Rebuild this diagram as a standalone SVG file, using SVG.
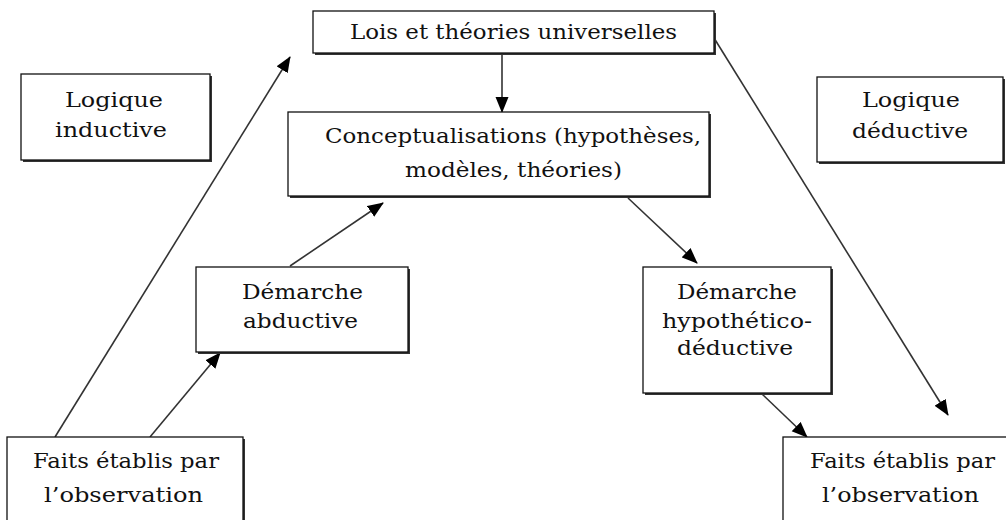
<svg xmlns="http://www.w3.org/2000/svg" width="1006" height="520" viewBox="0 0 1006 520">
<style>
.shadow{fill:#333;}
.box{fill:#fff;stroke:#111;stroke-width:1.3;}
.t{font-family:'DejaVu Serif','Liberation Serif',serif;font-size:21px;fill:#111;text-anchor:middle;}
.c{stroke:#333;stroke-width:1.6;fill:none;marker-end:url(#ah);}
</style>
<defs>
<marker id="ah" markerUnits="userSpaceOnUse" markerWidth="16" markerHeight="14" refX="15" refY="6.5" orient="auto" viewBox="0 0 16 13">
<path d="M0,0 L16,6.5 L0,13 z" fill="#000"/>
</marker>
</defs>
<rect width="1006" height="520" fill="#fff"/>
<g id="connectors">
<line class="c" x1="502" y1="53" x2="502" y2="112"/>
<line class="c" x1="55" y1="437" x2="290" y2="57"/>
<line class="c" x1="150" y1="437" x2="220" y2="353"/>
<line class="c" x1="290" y1="266" x2="383" y2="203"/>
<line class="c" x1="628" y1="198" x2="697" y2="263"/>
<line class="c" x1="714" y1="38" x2="948" y2="415"/>
<line class="c" x1="762" y1="394" x2="807" y2="437"/>
</g>
<g id="lois">
<rect class="shadow" x="315" y="13" width="401" height="42"/>
<rect class="box" x="313" y="11" width="401" height="42"/>
<text class="t" x="513.5" y="39" textLength="327" lengthAdjust="spacingAndGlyphs">Lois et théories universelles</text>
</g>
<g id="concept">
<rect class="shadow" x="290" y="114" width="421" height="84"/>
<rect class="box" x="288" y="112" width="421" height="84"/>
<text class="t" x="513" y="143" textLength="376" lengthAdjust="spacingAndGlyphs">Conceptualisations (hypothèses,</text>
<text class="t" x="513.5" y="177" textLength="217" lengthAdjust="spacingAndGlyphs">modèles, théories)</text>
</g>
<g id="inductive">
<rect class="shadow" x="23" y="76" width="189" height="86"/>
<rect class="box" x="21" y="74" width="189" height="86"/>
<text class="t" x="114" y="107" textLength="98" lengthAdjust="spacingAndGlyphs">Logique</text>
<text class="t" x="111" y="137" textLength="112" lengthAdjust="spacingAndGlyphs">inductive</text>
</g>
<g id="deductive">
<rect class="shadow" x="819" y="79" width="186" height="85"/>
<rect class="box" x="817" y="77" width="186" height="85"/>
<text class="t" x="911" y="107" textLength="98" lengthAdjust="spacingAndGlyphs">Logique</text>
<text class="t" x="910" y="138" textLength="116" lengthAdjust="spacingAndGlyphs">déductive</text>
</g>
<g id="abductive">
<rect class="shadow" x="198" y="269" width="212" height="85"/>
<rect class="box" x="196" y="267" width="212" height="85"/>
<text class="t" x="302.5" y="299" textLength="121" lengthAdjust="spacingAndGlyphs">Démarche</text>
<text class="t" x="300.5" y="328" textLength="115" lengthAdjust="spacingAndGlyphs">abductive</text>
</g>
<g id="hypothetico">
<rect class="shadow" x="645" y="269" width="188" height="126"/>
<rect class="box" x="643" y="267" width="188" height="126"/>
<text class="t" x="737" y="299" textLength="120" lengthAdjust="spacingAndGlyphs">Démarche</text>
<text class="t" x="737" y="328" textLength="150" lengthAdjust="spacingAndGlyphs">hypothético-</text>
<text class="t" x="735" y="355" textLength="116" lengthAdjust="spacingAndGlyphs">déductive</text>
</g>
<g id="faits-gauche">
<rect class="shadow" x="9" y="439" width="236" height="90"/>
<rect class="box" x="7" y="437" width="236" height="92"/>
<text class="t" x="126" y="468" textLength="186" lengthAdjust="spacingAndGlyphs">Faits établis par</text>
<text class="t" x="123.5" y="502" textLength="159" lengthAdjust="spacingAndGlyphs">l’observation</text>
</g>
<g id="faits-droite">
<rect class="shadow" x="785" y="439" width="236" height="90"/>
<rect class="box" x="783" y="437" width="236" height="92"/>
<text class="t" x="902.5" y="468" textLength="185" lengthAdjust="spacingAndGlyphs">Faits établis par</text>
<text class="t" x="900.5" y="502" textLength="157" lengthAdjust="spacingAndGlyphs">l’observation</text>
</g>
</svg>
